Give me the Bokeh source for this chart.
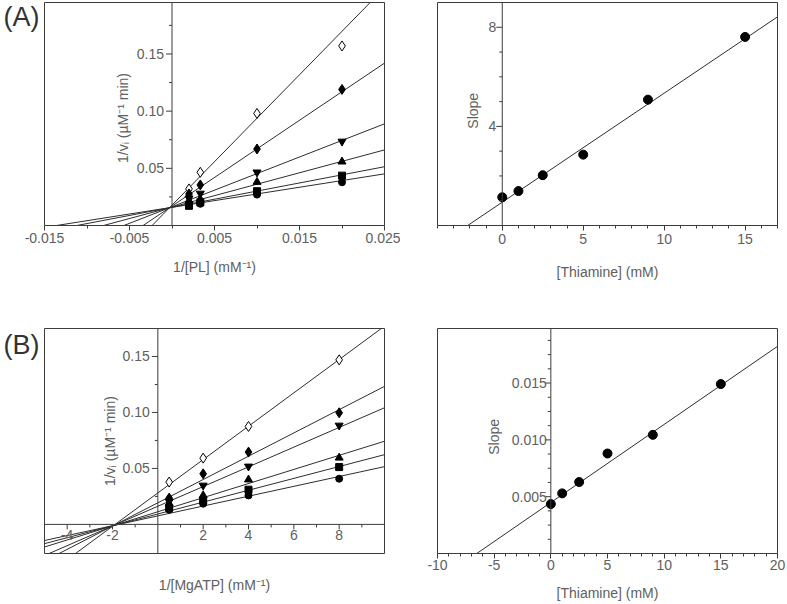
import numpy as np
from bokeh.plotting import figure
from bokeh.models import (Span, FixedTicker, Range1d, NumeralTickFormatter, LinearAxis,
                          CustomJSTickFormatter)
from bokeh.layouts import row, column
from bokeh.embed import file_html
from bokeh.resources import INLINE
from bokeh.core.properties import value

# ---------------- data ----------------
# Panel A, left: 1/v vs 1/[PL]
pl_inv = [0.002, 0.00333, 0.01, 0.02]
a_open_diamond = [0.032, 0.0465, 0.098, 0.157]
a_diamond = [0.0276, 0.0355, 0.0669, 0.119]
a_inv_triangle = [0.0238, 0.028, 0.0465, 0.0735]
a_triangle = [0.0218, 0.023, 0.038, 0.0558]
a_square = [0.0172, 0.0203, 0.030, 0.0436]
a_circle = [0.0182, 0.019, 0.027, 0.0378]
a_fit_slopes = [7.6, 5.0, 2.9, 2.0, 1.42, 1.17]
a_fit_intercepts = [0.0178, 0.0170, 0.0164, 0.0161, 0.0159, 0.0159]

# Panel A, right: slope replot vs [Thiamine]
thiamine_mM = [0, 1, 2.5, 5, 9, 15]
a_replot_slope = [1.14, 1.39, 2.03, 2.86, 5.08, 7.61]
a_replot_fit = (0.44, 0.94)  # slope, intercept

# Panel B, left: 1/v vs 1/[MgATP]
atp_inv = [0.5, 2, 4, 8]
b_open_diamond = [0.0378, 0.0592, 0.0875, 0.147]
b_diamond = [0.0235, 0.0452, 0.0646, 0.0997]
b_inv_triangle = [0.0205, 0.0348, 0.0518, 0.0884]
b_triangle = [0.0185, 0.0259, 0.040, 0.0595]
b_square = [0.0149, 0.0214, 0.031, 0.0512]
b_circle = [0.0131, 0.0185, 0.0259, 0.0408]
b_fit_slopes = [0.0149, 0.0104, 0.0088, 0.0063, 0.0053, 0.0044]
b_fit_intercepts = [0.0281, 0.0193, 0.0162, 0.0113, 0.0093, 0.0076]

# Panel B, right
b_replot_slope = [0.00435, 0.00529, 0.00629, 0.0088, 0.01044, 0.01491]
b_replot_fit = (0.000687, 0.00449)

# ticks
a_left_xticks = [-0.015, -0.005, 0.005, 0.015, 0.025]
a_left_xminor = [-0.010, 0.0, 0.010, 0.020]
a_left_yticks = [0.05, 0.10, 0.15]
a_left_ylabels = ["0.05", "0.10", "0.15"]
a_left_yminor = [0.025, 0.075, 0.125, 0.175]

a_right_xticks = [0, 5, 10, 15]
a_right_xminor = list(range(-4, 18))
a_right_yticks = [4, 8]
a_right_ylabels = ["4", "8"]
a_right_yminor = [1, 2, 3, 5, 6, 7]

b_left_xticks = [-4, -2, 2, 4, 6, 8]
b_left_xlabels = ["-4", "-2", "2", "4", "6", "8"]
b_left_xminor = [-3, -1, 1, 3, 5, 7, 9]
b_left_yticks = [0.05, 0.10, 0.15]
b_left_ylabels = ["0.05", "0.10", "0.15"]
b_left_yminor = [0.025, 0.075, 0.125]

b_right_xticks = [-10, -5, 0, 5, 10, 15, 20]
b_right_xminor = list(range(-10, 21))
b_right_yticks = [0.005, 0.010, 0.015]
b_right_ylabels = ["0.005", "0.010", "0.015"]
b_right_yminor = [0.00125, 0.0025, 0.00375, 0.00625, 0.0075, 0.00875,
                  0.01125, 0.0125, 0.01375, 0.01625, 0.0175, 0.01875]

markers = ["diamond", "diamond", "inverted_triangle", "triangle", "square", "circle"]
fills = ["white", "black", "black", "black", "black", "black"]
msizes = [10, 10, 8, 8, 7, 7]

FONT = "Liberation Sans"
FS = "14px"
TXT = "#606060"
AX = "#3c3c3c"
LN = "#2e2e2e"

FRAME = {}


def base_fig(width, height, xr, yr, l, r, t, b):
    p = figure(width=width, height=height, x_range=Range1d(*xr), y_range=Range1d(*yr),
               output_backend="svg", toolbar_location=None, y_axis_location=None,
               min_border_left=l, min_border_right=r, min_border_top=t, min_border_bottom=b)
    p.xgrid.visible = False
    p.ygrid.visible = False
    p.outline_line_color = AX
    p.outline_line_width = 1
    p.background_fill_color = "white"
    p.border_fill_color = "white"
    FRAME[p.id] = (width - l - r, height - t - b)
    return p


def style_xaxis(p, ticks, minor, label, lstand, astand, fmt):
    ax = p.xaxis[0]
    ax.ticker = FixedTicker(ticks=ticks, minor_ticks=minor)
    ax.formatter = fmt
    ax.axis_line_color = AX
    ax.major_tick_line_color = AX
    ax.minor_tick_line_color = AX
    ax.major_tick_in = 0
    ax.major_tick_out = 5
    ax.minor_tick_in = 0
    ax.minor_tick_out = 3
    ax.major_label_text_font = FONT
    ax.major_label_text_font_size = FS
    ax.major_label_text_color = TXT
    ax.major_label_standoff = lstand
    ax.axis_label = label
    ax.axis_label_text_font = FONT
    ax.axis_label_text_font_style = "normal"
    ax.axis_label_text_font_size = FS
    ax.axis_label_text_color = TXT
    ax.axis_label_standoff = astand


def yaxis_at_zero(p, major, labels, minor, label, label_y, label_off, title_off):
    xr = p.x_range
    dpp = (xr.end - xr.start) / FRAME[p.id][0]
    p.add_layout(Span(location=0, dimension="height", line_color=AX, line_width=1))
    p.segment(x0=[-6 * dpp] * len(major), x1=[0] * len(major), y0=major, y1=major,
              line_color=AX, line_width=1)
    p.segment(x0=[-3 * dpp] * len(minor), x1=[0] * len(minor), y0=minor, y1=minor,
              line_color=AX, line_width=1)
    p.text(x=[0] * len(major), y=major, text=labels, x_offset=-label_off,
           text_align="right", text_baseline="middle", text_font=value(FONT),
           text_font_size=FS, text_color=TXT)
    p.text(x=[0], y=[label_y], text=[label], angle=np.pi / 2, x_offset=title_off,
           text_align="center", text_baseline="middle", text_font=value(FONT),
           text_font_size=FS, text_color=TXT)


def fit_lines(p, slopes, intercepts):
    xs = np.array([p.x_range.start, p.x_range.end])
    for m, b0 in zip(slopes, intercepts):
        p.line(x=xs, y=b0 + m * xs, line_color=LN, line_width=1)


def series(p, xvals, ylists):
    for ys, mk, fc, sz in zip(ylists, markers, fills, msizes):
        p.scatter(x=xvals, y=ys, marker=mk, size=sz, fill_color=fc, line_color="black",
                  line_width=1)


def panel_label(p, txt, ypos):
    # panel letter shown as the single tick label of a bare left axis
    ax = LinearAxis(ticker=FixedTicker(ticks=[ypos], minor_ticks=[]),
                    formatter=CustomJSTickFormatter(code="return '%s';" % txt))
    ax.axis_line_color = None
    ax.major_tick_line_color = None
    ax.minor_tick_line_color = None
    ax.major_tick_out = 0
    ax.major_tick_in = 0
    ax.major_label_standoff = 5
    ax.major_label_text_font = FONT
    ax.major_label_text_font_size = "27px"
    ax.major_label_text_color = "#333333"
    p.add_layout(ax, "left")


# ---------------- Panel A left ----------------
pA1 = base_fig(400, 300, (-0.015, 0.025), (0.0, 0.195), 43, 16, 2, 75)
style_xaxis(pA1, a_left_xticks, a_left_xminor, "1/[PL] (mM\u207b\u00b9)", 2, 13,
            NumeralTickFormatter(format="0.000"))
fit_lines(pA1, a_fit_slopes, a_fit_intercepts)
series(pA1, pl_inv, [a_open_diamond, a_diamond, a_inv_triangle, a_triangle, a_square, a_circle])
yaxis_at_zero(pA1, a_left_yticks, a_left_ylabels, a_left_yminor,
              "1/v\u1d62 (\u00b5M\u207b\u00b9 min)", 0.094, 8, -49)
panel_label(pA1, "(A)", 0.182)

# ---------------- Panel A right ----------------
pA2 = base_fig(386, 300, (-4, 17), (0, 9), 37, 9, 2, 75)
style_xaxis(pA2, a_right_xticks, a_right_xminor, "[Thiamine] (mM)", 3, 17,
            NumeralTickFormatter(format="0"))
xa = np.array([-4.0, 17.0])
pA2.line(x=xa, y=a_replot_fit[1] + a_replot_fit[0] * xa, line_color=LN, line_width=1)
pA2.scatter(x=thiamine_mM, y=a_replot_slope, marker="circle", size=9, fill_color="black",
            line_color="black")
yaxis_at_zero(pA2, a_right_yticks, a_right_ylabels, a_right_yminor, "Slope", 4.63, 6, -29)

# ---------------- Panel B left ----------------
pB1 = base_fig(400, 304, (-5, 10), (-0.026, 0.175), 43, 16, 28, 51)
ax = pB1.xaxis[0]
ax.ticker = FixedTicker(ticks=[])
ax.axis_line_color = None
ax.major_tick_out = 0
ax.minor_tick_out = 0
ax.major_label_standoff = 0
ax.axis_label = "1/[MgATP] (mM\u207b\u00b9)"
ax.axis_label_text_font = FONT
ax.axis_label_text_font_style = "normal"
ax.axis_label_text_font_size = FS
ax.axis_label_text_color = TXT
ax.axis_label_standoff = 23
fit_lines(pB1, b_fit_slopes, b_fit_intercepts)
# x-axis drawn at y = 0
dpy = (pB1.y_range.end - pB1.y_range.start) / FRAME[pB1.id][1]
pB1.add_layout(Span(location=0, dimension="width", line_color=AX, line_width=1))
pB1.segment(x0=b_left_xticks, x1=b_left_xticks, y0=[0] * len(b_left_xticks),
            y1=[-5 * dpy] * len(b_left_xticks), line_color=AX)
pB1.segment(x0=b_left_xminor, x1=b_left_xminor, y0=[0] * len(b_left_xminor),
            y1=[-3 * dpy] * len(b_left_xminor), line_color=AX)
pB1.text(x=b_left_xticks, y=[0] * len(b_left_xticks), text=b_left_xlabels, y_offset=6,
         text_align="center", text_baseline="top", text_font=value(FONT),
         text_font_size=FS, text_color=TXT)
series(pB1, atp_inv, [b_open_diamond, b_diamond, b_inv_triangle, b_triangle, b_square, b_circle])
yaxis_at_zero(pB1, b_left_yticks, b_left_ylabels, b_left_yminor,
              "1/v\u1d62 (\u00b5M\u207b\u00b9 min)", 0.0744, 8, -48)
panel_label(pB1, "(B)", 0.160)

# ---------------- Panel B right ----------------
pB2 = base_fig(386, 304, (-10, 20), (0, 0.0198), 37, 9, 28, 51)
style_xaxis(pB2, b_right_xticks, b_right_xminor, "[Thiamine] (mM)", 1, 12,
            NumeralTickFormatter(format="0"))
xb = np.array([-10.0, 20.0])
pB2.line(x=xb, y=b_replot_fit[1] + b_replot_fit[0] * xb, line_color=LN, line_width=1)
pB2.scatter(x=thiamine_mM, y=b_replot_slope, marker="circle", size=9, fill_color="black",
            line_color="black")
yaxis_at_zero(pB2, b_right_yticks, b_right_ylabels, b_right_yminor, "Slope", 0.01026, 4, -57)

layout = column(row(pA1, pA2), row(pB1, pB2))
open("out.html", "w").write(file_html(layout, INLINE))
